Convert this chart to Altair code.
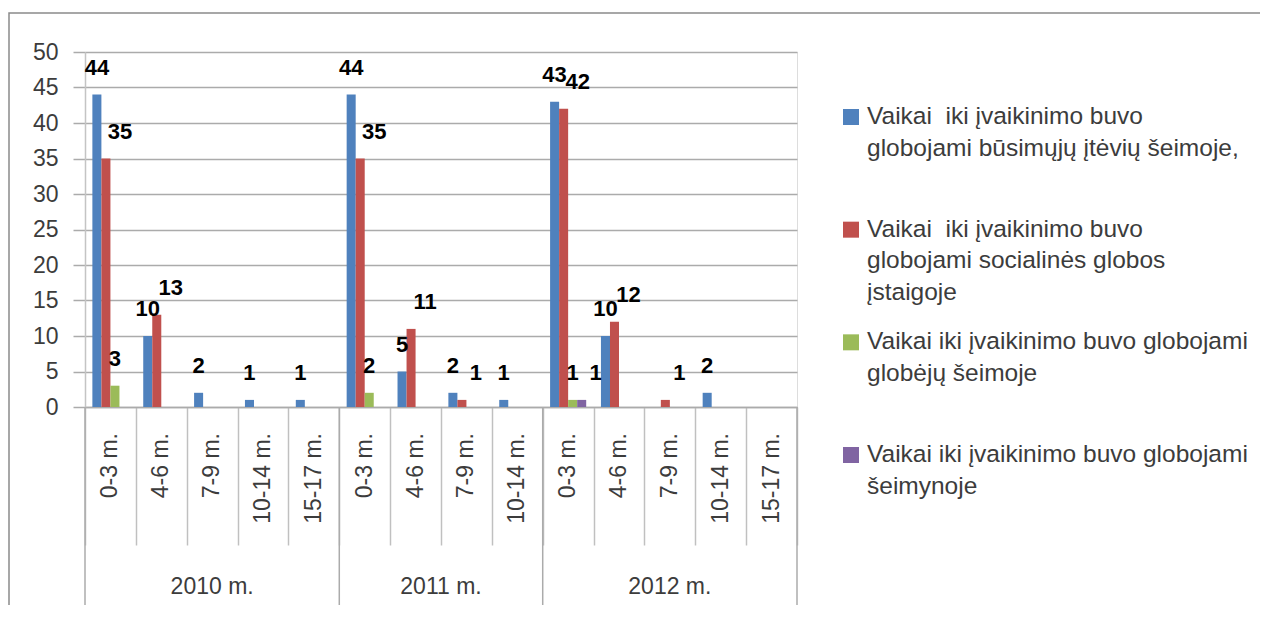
import altair as alt
import pandas as pd

# ---- data ----
years = ["2010 m.", "2011 m.", "2012 m."]
ages_2010 = ["0-3 m.", "4-6 m.", "7-9 m.", "10-14 m.", "15-17 m."]
ages_2011 = ["0-3 m.", "4-6 m.", "7-9 m.", "10-14 m."]
ages_2012 = ["0-3 m.", "4-6 m.", "7-9 m.", "10-14 m.", "15-17 m."]

series = [
    "būsimųjų įtėvių šeimoje",
    "socialinės globos įstaigoje",
    "globėjų šeimoje",
    "šeimynoje",
]
legend_lines = [
    ["Vaikai\u00a0 iki įvaikinimo buvo", "globojami būsimųjų įtėvių šeimoje,"],
    ["Vaikai\u00a0 iki įvaikinimo buvo", "globojami socialinės globos", "įstaigoje"],
    ["Vaikai iki įvaikinimo buvo globojami", "globėjų šeimoje"],
    ["Vaikai iki įvaikinimo buvo globojami", "šeimynoje"],
]
colors = ["#4F81BD", "#C0504D", "#9BBB59", "#8064A2"]

# values in category order: 2010 (5 ages), 2011 (4 ages), 2012 (5 ages)
v_busimuju = [44, 10, 2, 1, 1, 44, 5, 2, 1, 43, 10, 0, 2, 0]
v_istaigoje = [35, 13, 0, 0, 0, 35, 11, 1, 0, 42, 12, 1, 0, 0]
v_globeju = [3, 0, 0, 0, 0, 2, 0, 0, 0, 1, 0, 0, 0, 0]
v_seimynoje = [0, 0, 0, 0, 0, 0, 0, 0, 0, 1, 0, 0, 0, 0]

y_ticks = [0, 5, 10, 15, 20, 25, 30, 35, 40, 45, 50]

# ---- tables built from the arrays ----
ages_by_year = [ages_2010, ages_2011, ages_2012]
cats = []
for y, ages in zip(years, ages_by_year):
    for a in ages:
        cats.append((y, a))
keys = [f"{y}|{a}" for y, a in cats]
n_cat = len(keys)

values = [v_busimuju, v_istaigoje, v_globeju, v_seimynoje]
rows = []
for s, vals in zip(series, values):
    for i, (y, a) in enumerate(cats):
        rows.append({"key": keys[i], "series": s, "value": vals[i]})
bars_df = pd.DataFrame(rows)

age_df = pd.DataFrame({"mid": [i + 0.5 for i in range(n_cat)], "age": [a for _, a in cats]})
bounds = [0]
for ages in ages_by_year:
    bounds.append(bounds[-1] + len(ages))
bound_df = pd.DataFrame({"pos": bounds})
year_df = pd.DataFrame({
    "mid": [(bounds[i] + bounds[i + 1]) / 2 for i in range(len(years))],
    "year": years,
})
legend_df = pd.DataFrame({"series": series, "lines": legend_lines})

W, H = 712, 355
FONT = "Liberation Sans"
GRID = "#ababab"

x_band = alt.X("key:N", sort=keys,
               scale=alt.Scale(domain=keys, paddingInner=0.29, paddingOuter=0.145),
               axis=None)
x_off = alt.XOffset("series:N", sort=series, scale=alt.Scale(domain=series))
color = alt.Color("series:N", scale=alt.Scale(domain=series, range=colors), legend=None)
lin_scale = alt.Scale(domain=[0, n_cat], nice=False, zero=False)

frame = alt.Chart(pd.DataFrame({"a": [0]})).mark_rect(
    fillOpacity=0, stroke="#8a8a8a", strokeWidth=1.5
).encode(
    x=alt.value(-76), x2=alt.value(1400), y=alt.value(-39), y2=alt.value(800)
)

bars = alt.Chart(bars_df).transform_filter("datum.value > 0").mark_bar().encode(
    x=x_band,
    xOffset=x_off,
    y=alt.Y("value:Q", scale=alt.Scale(domain=[0, 50], nice=False),
            axis=alt.Axis(values=y_ticks, title=None, grid=True, gridColor=GRID,
                          gridWidth=1.5, domainColor="#c4c4c4", domainWidth=1.5,
                          tickColor=GRID, tickWidth=1.5, tickSize=12,
                          labelPadding=15, labelFontSize=23, labelColor="#3c3c3c",
                          labelFont=FONT)),
    color=color,
)

lab_a = alt.Chart(bars_df).transform_filter(
    "datum.value > 0 && (datum.series == '%s' || datum.series == '%s')" % (series[0], series[2])
).mark_text(fontSize=22, fontWeight="bold", baseline="middle", dy=-27, color="black", font=FONT).encode(
    x=x_band, xOffset=x_off, y=alt.Y("value:Q", scale=alt.Scale(domain=[0, 50], nice=False), axis=None),
    text="value:Q",
)
lab_b = alt.Chart(bars_df).transform_filter(
    "datum.value > 0 && (datum.series == '%s' || datum.series == '%s')" % (series[1], series[3])
).mark_text(fontSize=22, fontWeight="bold", baseline="middle", dy=-27, dx=14, color="black", font=FONT).encode(
    x=x_band, xOffset=x_off, y=alt.Y("value:Q", scale=alt.Scale(domain=[0, 50], nice=False), axis=None),
    text="value:Q",
)

seps = alt.Chart(bound_df).mark_rule(color=GRID, strokeWidth=1.5).encode(
    x=alt.X("pos:Q", scale=lin_scale,
            axis=alt.Axis(values=list(range(n_cat + 1)), labels=False, grid=False,
                          tickSize=138, tickColor="#c0c0c0", tickWidth=1.5,
                          domainColor=GRID, domainWidth=1.5, title=None, orient="bottom")),
    y=alt.value(H), y2=alt.value(H + 300),
)

age_labels = alt.Chart(age_df).mark_text(
    angle=270, align="right", baseline="middle", fontSize=23, color="#3c3c3c", font=FONT
).encode(
    x=alt.X("mid:Q", scale=lin_scale, axis=None),
    y=alt.value(H + 26),
    text="age:N",
)

year_labels = alt.Chart(year_df).mark_text(
    align="center", baseline="middle", fontSize=23, color="#3c3c3c", font=FONT
).encode(
    x=alt.X("mid:Q", scale=lin_scale, axis=None),
    y=alt.value(H + 180),
    text="year:N",
)

leg_y = alt.Y("series:N", sort=series,
              scale=alt.Scale(type="point", domain=series, range=[65, 403], padding=0),
              axis=None)
leg_sq = alt.Chart(legend_df).mark_square(size=256, opacity=1).encode(
    x=alt.value(766), y=leg_y, color=color,
)
leg_tx = alt.Chart(legend_df).mark_text(
    align="left", baseline="middle", fontSize=24.5, lineHeight=31.5, color="#3c3c3c", font=FONT
).encode(
    x=alt.value(782), y=leg_y, text="lines",
)

chart = alt.layer(
    frame, bars, lab_a, lab_b, seps, age_labels, year_labels, leg_sq, leg_tx
).resolve_scale(
    x="independent", y="independent"
).properties(
    width=W, height=H,
    autosize=alt.AutoSizeParams(type="none"),
    padding={"left": 77, "top": 44, "right": 463, "bottom": 198},
    background="white",
).configure_view(stroke=None).configure(font=FONT)

chart.save("out.html", embed_options={"renderer": "svg", "actions": False})
